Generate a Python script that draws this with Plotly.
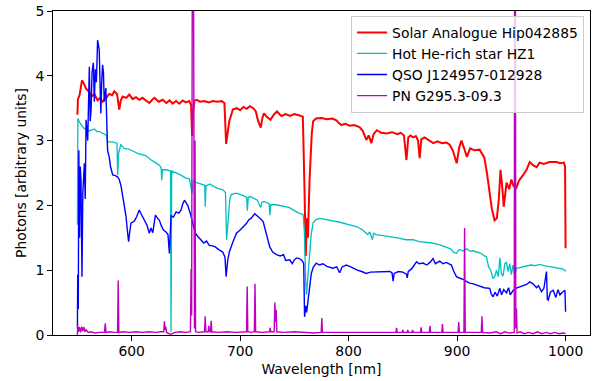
import plotly.graph_objects as go

# ---------------- data ----------------
solar_wl = [550, 550.5, 552, 554.2, 556, 558, 561, 563, 565.6, 568.6, 571, 573.2, 576, 579.4, 582, 584,
            586.5, 588.6, 590, 591.7, 595, 597.8, 601, 604, 607, 610, 613, 616.3, 619, 621, 625, 628.6,
            632, 635, 637.8, 641, 644, 647, 650, 653, 654.8, 655.7, 656.6, 658, 660, 663, 667, 671, 675,
            679, 683, 685.5, 687.1, 688.5, 690, 693.3, 697, 700, 703, 706, 709, 712, 714.5, 716.3, 719,
            720.5, 722, 725, 728, 731, 734, 738, 742, 746, 750, 754, 757.8, 759.4, 760.5, 761.5, 762.5,
            764, 766, 767.3, 770, 775, 780, 785, 789, 791, 793.3, 797, 801, 805, 810, 813, 816.3, 818.5,
            821, 823, 826, 830, 835, 840, 845, 848, 851, 853.3, 855, 857, 859.5, 862, 864, 865.5, 867,
            870, 874, 878, 882, 886, 890, 893, 896, 899.6, 902, 904, 906.5, 909, 912, 916, 920.8, 923,
            925, 927.5, 929.9, 932, 934.5, 936.6, 938.5, 940, 941.5, 943, 945.6, 948, 950, 952, 954.6,
            957, 960.9, 964, 967, 970, 973.3, 976, 980, 985, 991.6, 995, 998.4, 999.5, 1000]
solar_fl = [3.40, 3.64, 3.70, 3.93, 3.88, 3.80, 3.75, 3.68, 3.72, 3.62, 3.66, 3.60, 3.65, 3.72, 3.70, 3.76,
            3.72, 3.48, 3.62, 3.68, 3.66, 3.71, 3.64, 3.67, 3.63, 3.66, 3.62, 3.58, 3.63, 3.66, 3.60, 3.63,
            3.58, 3.62, 3.57, 3.61, 3.57, 3.62, 3.59, 3.61, 3.55, 3.07, 3.45, 3.62, 3.63, 3.60, 3.61, 3.59, 3.61,
            3.60, 3.61, 3.58, 2.95, 3.10, 3.30, 3.48, 3.50, 3.47, 3.52, 3.49, 3.53, 3.50, 3.45, 3.32, 3.20,
            3.35, 3.42, 3.36, 3.32, 3.40, 3.45, 3.38, 3.41, 3.38, 3.41, 3.39, 3.37, 2.20, 1.22, 1.80, 1.50,
            2.40, 3.10, 3.30, 3.34, 3.35, 3.33, 3.34, 3.31, 3.27, 3.24, 3.26, 3.23, 3.24, 3.21, 3.15, 3.01, 3.08,
            2.96, 3.10, 3.16, 3.12, 3.11, 3.13, 3.10, 3.12, 3.08, 2.70, 3.05, 3.08, 3.05, 3.07, 3.00, 2.73, 3.02,
            3.05, 3.00, 2.96, 2.99, 2.96, 2.97, 2.94, 2.85, 2.65, 2.90, 3.00, 2.88, 2.75, 2.88, 2.85, 2.86, 2.80,
            2.74, 2.50, 2.19, 1.95, 1.77, 1.80, 2.10, 2.55, 2.30, 1.98, 2.35, 2.25, 2.40, 2.30, 2.27,
            2.38, 2.47, 2.55, 2.67, 2.62, 2.59, 2.66, 2.64, 2.67, 2.67, 2.65, 2.66, 2.60, 1.34]

hz1_wl = [550, 550.4, 552, 553.3, 556.4, 558, 561, 565.6, 568, 570.2, 574.8, 577, 577.8, 582.4, 586.5, 587.1,
          588, 590, 593, 597, 601, 606, 613, 618, 622, 625.6, 627.2, 627.7, 628.5, 632, 635.8, 636.3, 636.9,
          640, 645, 650, 653.3, 655.7, 656.8, 660, 664, 667.4, 667.8, 668.5, 672, 678, 684, 686.5, 687.5,
          689, 690.5, 692, 696.6, 703, 706, 706.6, 707.5, 709, 713, 716, 718, 719, 720, 722, 725, 726.8,
          727.4, 728.2, 733, 739, 745, 750, 754, 758, 759.2, 760.4, 761.2, 762, 763, 764.2, 765.5, 767.3,
          770, 773.4, 780, 785.7, 792, 801, 808, 813, 817.5, 819.5, 822, 823, 825, 828.6, 837, 845, 853,
          859.4, 865, 871, 877, 884, 890.2, 894, 897, 899.4, 902, 905.5, 909, 912, 914.7, 918, 922, 925,
          927, 929, 931, 933.2, 935, 936.3, 938, 939.4, 940.8, 942.4, 944, 945.5, 947, 948.5, 950, 951.5,
          953, 954.8, 958, 961, 964, 968, 972, 976.3, 980, 984, 988.6, 993, 997, 999.3, 1000]
hz1_fl = [1.70, 3.34, 3.28, 3.25, 3.18, 3.20, 3.15, 3.18, 3.14, 3.14, 3.10, 3.08, 2.98, 2.98, 2.96, 2.47,
          2.80, 2.94, 2.88, 2.87, 2.84, 2.80, 2.77, 2.70, 2.66, 2.62, 2.58, 2.39, 2.55, 2.55, 2.53, 0.05, 2.53,
          2.51, 2.47, 2.42, 2.41, 2.19, 2.38, 2.35, 2.33, 2.31, 1.98, 2.30, 2.33, 2.27, 2.24, 2.20, 1.47,
          1.85, 2.10, 2.17, 2.19, 2.15, 2.12, 1.92, 2.12, 2.14, 2.10, 2.08, 2.00, 1.97, 2.05, 2.06, 2.04, 2.02,
          1.85, 2.01, 2.01, 1.99, 1.97, 1.92, 1.88, 1.86, 1.60, 0.85, 0.62, 0.80, 1.00, 1.36, 1.55, 1.73,
          1.78, 1.80, 1.78, 1.77, 1.74, 1.70, 1.67, 1.62, 1.55, 1.59, 1.47, 1.57, 1.55, 1.54, 1.52, 1.50, 1.47,
          1.47, 1.44, 1.43, 1.42, 1.39, 1.36, 1.33, 1.27, 1.26, 1.32, 1.30, 1.33, 1.29, 1.30, 1.28, 1.26, 1.22,
          1.21, 1.05, 1.00, 0.87, 0.92, 1.00, 0.90, 1.19, 0.95, 0.91, 1.10, 1.12, 0.98, 1.10, 0.93, 1.08,
          0.92, 1.03, 1.04, 1.06, 1.06, 1.08, 1.07, 1.09, 1.07, 1.06, 1.05, 1.03, 1.02, 1.00, 0.98]

qso_wl = [550, 550.3, 550.8, 551.3, 552, 552.6, 553.3, 554.2, 555, 556.4, 557.2, 558, 559.5, 560.3, 561,
          561.8, 562.6, 563.5, 564.7, 565.6, 566.5, 567.5, 568.6, 570.1, 571.0, 571.6, 572.4, 573.2, 574,
          574.7, 576.2, 577, 577.8, 579.3, 580.5, 582.5, 585, 587, 588.6, 590.2, 592.5, 594.8, 596, 597.2,
          598.3, 599.4, 601, 602.5, 604.5, 607, 609, 611.6, 614, 616.3, 617.8, 619.5, 621.9, 624, 625.6,
          627.5, 629.3, 631.7, 633.5, 634.8, 636.3, 638.5, 641, 643.5, 645.6, 647, 648.7, 650.5, 651.7,
          654, 656.4, 658.5, 661, 664, 666.5, 669, 671.7, 674, 677, 681, 684, 686, 687.1, 688.5, 690, 693,
          696.6, 700, 703, 705.8, 708, 710, 713.5, 716, 719, 721.2, 723, 725, 727.3, 730, 733.5, 737, 740,
          742, 745.8, 748, 750, 752, 754.6, 757, 758.6, 759.4, 760.5, 761.3, 762.5, 764, 765.6, 767.5,
          770.2, 773, 776.3, 780, 785.5, 789, 791.7, 794, 797.8, 801, 804, 808, 812, 816.3, 820, 824,
          828.6, 833, 837.9, 840, 841, 842, 846, 850, 853.3, 854, 855, 858, 862.6, 865, 868.7, 872, 875,
          877.8, 880, 884, 887, 890, 894.7, 897, 899.4, 902, 905.5, 908, 911.7, 915, 918, 920.9, 925,
          930.1, 931.5, 933.2, 935, 937, 939.4, 941, 943, 945.5, 947.5, 949, 951.7, 954, 957.8, 961, 964,
          967, 970, 973.2, 975, 977.8, 980, 982.4, 983.2, 984, 986, 988.6, 991, 993, 994.8, 997, 999.4,
          1000]
qso_fl = [0.10, 0.93, 0.40, 2.85, 1.50, 2.60, 2.39, 0.90, 2.20, 2.65, 2.10, 3.32, 3.00, 3.60, 4.14,
          3.30, 3.47, 4.05, 4.20, 3.60, 4.10, 3.90, 4.55, 4.40, 3.80, 3.42, 3.90, 4.17, 4.05,
          3.60, 3.81, 3.30, 2.85, 2.75, 2.60, 2.47, 2.46, 2.44, 2.40, 2.30, 2.05, 1.83, 1.62, 1.44,
          1.60, 1.73, 1.74, 1.76, 1.82, 1.93, 1.86, 1.77, 1.70, 1.57, 1.65, 1.58, 1.85, 1.80, 1.77,
          1.68, 1.62, 1.59, 1.55, 1.26, 1.84, 1.82, 1.90, 1.88, 1.93, 2.02, 2.08, 2.03, 2.00,
          1.88, 1.70, 1.58, 1.52, 1.46, 1.42, 1.45, 1.38, 1.38, 1.36, 1.31, 1.28, 1.20, 0.90, 1.15, 1.28, 1.42,
          1.57, 1.62, 1.67, 1.72, 1.78, 1.80, 1.87, 1.84, 1.79, 1.75, 1.62, 1.48, 1.36, 1.28, 1.24, 1.22, 1.24,
          1.15, 1.16, 1.10, 1.16, 1.19, 1.18, 1.15, 1.10, 0.28, 0.45, 0.35, 0.54, 0.80, 0.95, 1.05,
          1.11, 1.08, 1.10, 1.06, 1.03, 1.05, 0.96, 1.05, 1.08, 1.06, 1.03, 1.00, 0.98, 0.95, 0.97, 0.97,
          0.98, 0.97, 0.98, 0.96, 0.83, 0.95, 0.98, 0.97, 0.94, 0.88, 0.98, 1.02, 1.13, 1.10, 1.11, 1.08, 1.12,
          1.18, 1.10, 1.14, 1.10, 1.12, 1.08, 0.98, 0.90, 0.88, 0.86, 0.83, 0.80, 0.79, 0.77, 0.75, 0.73,
          0.72, 0.63, 0.59, 0.66, 0.60, 0.72, 0.62, 0.70, 0.65, 0.73, 0.62, 0.69, 0.72, 0.74, 0.76, 0.78,
          0.82, 0.79, 0.73, 0.76, 0.67, 0.72, 0.98, 0.55, 0.54, 0.66, 0.69, 0.58, 0.70, 0.62, 0.66, 0.69,
          0.36]

pn_wl = [550, 550.3, 551, 552, 553, 554, 555, 556, 557, 558, 560, 563, 566, 570, 574.9, 575.7, 576.4,
         580, 584, 587.0, 587.6, 588.2, 592, 598, 604, 610, 616, 622, 627, 629.6, 630.2, 630.9, 631.5,
         632.1, 636, 640, 645, 650, 654.2, 654.8, 655.3, 655.8, 656.3, 656.8, 657.3, 657.9, 658.4, 658.9,
         662, 667.2, 667.8, 668.4, 670.6, 671.1, 671.6, 672.7, 673.3, 673.9, 680, 688, 696, 702, 705.9,
         706.5, 707.1, 710, 713.1, 713.7, 714.3, 720, 727.1, 727.7, 728.3, 731.4, 732.0, 732.6, 733.2,
         733.8, 740, 750, 760, 768, 774.7, 775.3, 775.9, 785, 795, 805, 815, 825, 835, 843.6, 844.2,
         844.8, 849.4, 850.0, 850.6, 853.9, 854.5, 855.1, 858.4, 859.0, 859.6, 866.2, 866.8, 867.4, 874.4,
         875.0, 875.6, 880, 885.9, 886.5, 887.1, 894, 900.9, 901.5, 902.1, 906.3, 906.9, 907.5, 912,
         918, 922.3, 922.9, 923.5, 930, 936, 940, 944, 948, 952.7, 953.1, 953.6, 954.1, 954.7, 955.3,
         958, 962, 966, 970, 974, 978, 982, 986, 990, 994, 998, 1000]
pn_fl = [0.00, 0.15, 0.05, 0.12, 0.04, 0.13, 0.06, 0.12, 0.05, 0.08, 0.04, 0.05, 0.03, 0.04, 0.04, 0.18, 0.04,
         0.05, 0.04, 0.04, 0.84, 0.04, 0.05, 0.04, 0.05, 0.04, 0.05, 0.04, 0.05, 0.05, 0.21, 0.08, 0.13,
         0.04, 0.01, 0.04, 0.05, 0.04, 0.05, 1.02, 0.30, 7.00, 9.00, 7.00, 0.30, 0.10, 3.00, 0.05,
         0.04, 0.05, 0.29, 0.05, 0.05, 0.14, 0.06, 0.05, 0.22, 0.05, 0.04, 0.05, 0.04, 0.05, 0.05,
         0.75, 0.05, 0.04, 0.05, 0.79, 0.05, 0.04, 0.05, 0.11, 0.05, 0.05, 0.50, 0.20, 0.39,
         0.05, 0.04, 0.05, 0.04, 0.03, 0.04, 0.26, 0.04, 0.04, 0.05, 0.04, 0.05, 0.04, 0.05, 0.04, 0.11,
         0.04, 0.04, 0.08, 0.04, 0.04, 0.08, 0.04, 0.04, 0.08, 0.04, 0.04, 0.12, 0.04, 0.04,
         0.14, 0.04, 0.04, 0.04, 0.17, 0.04, 0.04, 0.04, 0.20, 0.04, 0.04, 1.65, 0.04, 0.04,
         0.05, 0.04, 0.29, 0.04, 0.03, 0.05, 0.02, 0.05, 0.03, 0.04, 8.00, 8.00, 0.10, 0.41, 0.03,
         0.05, 0.02, 0.04, 0.02, 0.05, 0.02, 0.04, 0.02, 0.04, 0.02, 0.03, 0.02]

series_names = ["Solar Analogue Hip042885", "Hot He-rich star HZ1", "QSO J124957-012928", "PN G295.3-09.3"]
series_colors = ["#ff0000", "#00bfbf", "#0000ff", "#bf00bf"]
series_widths = [2.0, 1.3, 1.4, 1.4]
x_ticks = [600, 700, 800, 900, 1000]
y_ticks = [0, 1, 2, 3, 4, 5]

# ---------------- figure ----------------
fig = go.Figure()
for wl, fl, name, col, lw in zip([solar_wl, hz1_wl, qso_wl, pn_wl], [solar_fl, hz1_fl, qso_fl, pn_fl],
                                 series_names, series_colors, series_widths):
    fig.add_trace(go.Scatter(x=wl, y=fl, mode="lines", name=name,
                             line=dict(color=col, width=lw)))

font = dict(family="DejaVu Sans", size=13.9, color="#000000")
fig.update_layout(
    width=601, height=381,
    margin=dict(l=53, r=11, t=11, b=46, autoexpand=False),
    paper_bgcolor="white", plot_bgcolor="white",
    font=font,
    showlegend=True,
    legend=dict(x=0.989, y=0.985, xanchor="right", yanchor="top",
                bgcolor="rgba(255,255,255,0.8)", bordercolor="#cccccc", borderwidth=1,
                font=dict(family="DejaVu Sans", size=13.9, color="#000000"),
                tracegroupgap=0, itemwidth=30),
    xaxis=dict(range=[527.5, 1022.5], tickvals=x_ticks, showgrid=False, zeroline=False,
               showline=True, mirror=True, linecolor="black", linewidth=1,
               ticks="outside", ticklen=5, tickcolor="black", automargin=False,
               ticklabelstandoff=-2,
               title=dict(text="Wavelength [nm]", standoff=6, font=font)),
    yaxis=dict(range=[0, 5], tickvals=y_ticks, showgrid=False, zeroline=False,
               showline=True, mirror=True, linecolor="black", linewidth=1,
               ticks="outside", ticklen=5, tickcolor="black", automargin=False,
               title=dict(text="Photons [arbitrary units]", standoff=5, font=font)),
)

fig.write_html("out.html")
